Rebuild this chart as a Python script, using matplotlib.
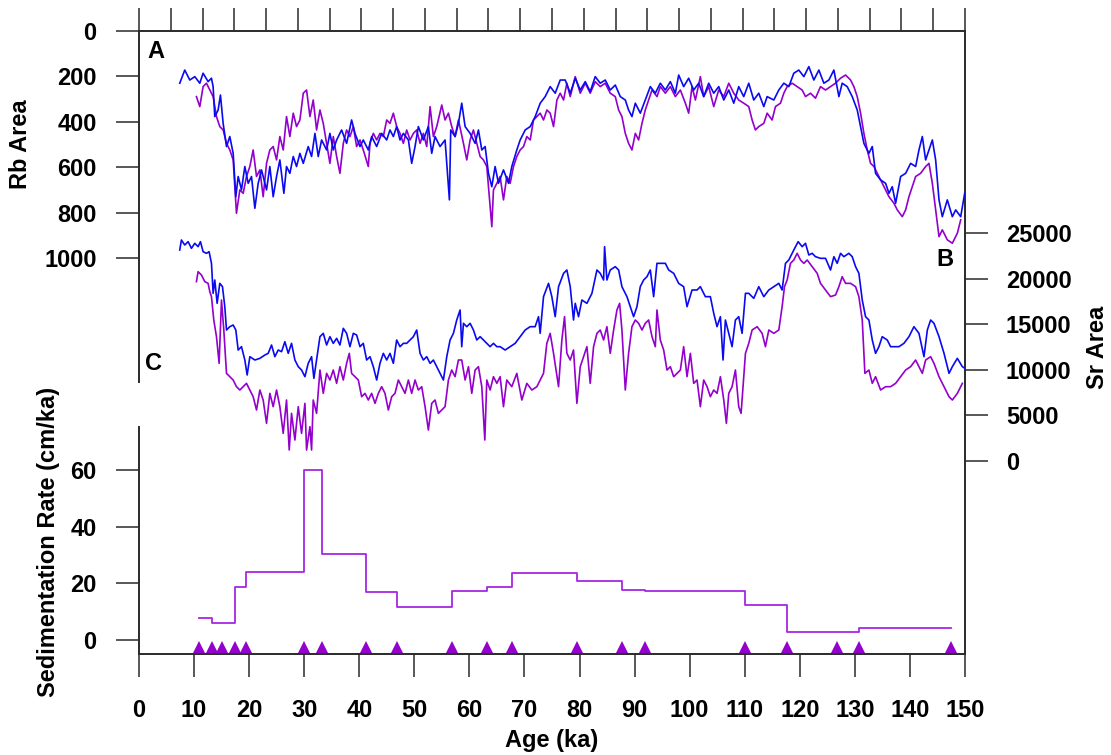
import matplotlib
matplotlib.use("Agg")
import matplotlib.pyplot as plt

plt.rcParams['font.family'] = ['Liberation Sans', 'DejaVu Sans']
plt.rcParams['font.weight'] = 'bold'

# ---------------- data ----------------
# Panel A : Rb area (blue and purple records)
rb_blue_age = [7.40, 8.31, 9.22, 10.13, 11.04, 11.64, 12.55, 13.16, 13.46, 13.76, 14.37, 14.79, 15.28, 15.89,
               16.49, 17.10, 17.58, 18.01, 18.61, 19.22, 19.83, 20.43, 21.04, 21.64, 22.25, 23.16, 23.76, 24.37,
               24.98, 25.58, 26.31, 26.79, 27.40, 28.01, 28.61, 29.22, 29.83, 30.73, 31.34, 31.95, 32.55, 33.16,
               34.07, 34.67, 35.28, 35.89, 36.79, 37.70, 38.61, 39.22, 40.13, 40.73, 41.64, 42.25, 43.16, 44.07,
               44.98, 45.58, 46.19, 46.79, 47.40, 48.01, 48.92, 49.52, 50.13, 50.73, 51.64, 52.55, 53.16, 53.76,
               54.67, 55.58, 56.37, 56.61, 57.40, 58.01, 58.61, 59.22, 60.13, 61.04, 61.64, 62.25, 62.86, 63.46,
               64.07, 64.67, 65.28, 66.19, 67.10, 67.70, 68.61, 69.22, 70.13, 71.04, 71.95, 72.86, 73.76, 74.67,
               75.58, 76.49, 77.40, 78.31, 79.22, 80.13, 81.04, 81.94, 82.85, 83.76, 84.67, 85.58, 86.49, 87.40,
               88.31, 88.91, 89.52, 90.13, 91.04, 91.94, 92.85, 93.76, 94.67, 95.58, 96.49, 97.40, 98.01, 98.91,
               99.82, 100.73, 101.64, 102.55, 103.46, 104.37, 105.28, 106.19, 107.10, 108.01, 108.91, 109.82,
               110.73, 111.64, 112.55, 113.46, 114.07, 115.28, 116.19, 117.10, 118.01, 118.91, 119.82, 120.73,
               121.64, 122.55, 123.46, 124.37, 125.28, 126.19, 127.10, 127.70, 128.61, 129.52, 130.43, 131.04,
               131.64, 132.55, 133.16, 133.76, 134.67, 135.58, 136.19, 136.79, 137.40, 138.31, 139.22, 140.13,
               141.04, 141.64, 142.25, 142.85, 143.46, 144.07, 144.67, 145.28, 145.88, 146.79, 147.70, 148.31,
               149.22, 149.94]
rb_blue = [230, 172, 216, 201, 230, 186, 223, 208, 245, 377, 348, 282, 407, 509,
           465, 539, 730, 641, 700, 597, 671, 641, 781, 671, 612, 700, 597, 730,
           641, 568, 715, 597, 627, 553, 597, 539, 583, 509, 553, 451, 553, 480,
           524, 451, 524, 480, 436, 495, 392, 451, 509, 480, 524, 465, 509, 451,
           480, 436, 465, 421, 480, 451, 480, 583, 509, 421, 480, 421, 539, 465,
           509, 480, 744, 436, 465, 407, 318, 421, 451, 495, 436, 524, 509, 627,
           686, 597, 671, 612, 671, 597, 524, 480, 436, 421, 377, 318, 289, 245,
           274, 216, 216, 274, 208, 260, 223, 267, 201, 230, 216, 260, 238, 289,
           304, 348, 377, 318, 362, 304, 245, 274, 230, 260, 223, 274, 194, 245,
           208, 260, 230, 289, 230, 274, 245, 304, 260, 318, 245, 289,
           230, 304, 274, 333, 289, 304, 260, 230, 245, 186, 172, 201,
           157, 216, 172, 230, 216, 172, 289, 230, 245, 289, 348, 421,
           495, 539, 509, 627, 656, 671, 715, 686, 759, 641, 627, 583,
           597, 524, 465, 568, 524, 480, 568, 744, 818, 744, 818, 788,
           818, 715]

rb_purple_age = [10.43, 11.04, 11.64, 12.25, 12.86, 13.46, 14.07, 14.67, 15.28, 15.89, 16.49, 17.10, 17.70,
                 18.31, 18.92, 19.52, 20.13, 20.73, 21.34, 21.95, 22.55, 23.16, 23.76, 24.37, 24.98, 25.58,
                 26.19, 26.79, 27.40, 28.01, 28.61, 29.22, 29.83, 30.43, 31.04, 31.64, 32.25, 32.86, 33.46,
                 34.07, 34.67, 35.28, 35.89, 36.49, 37.10, 37.70, 38.31, 38.92, 39.52, 40.13, 40.73, 41.64,
                 41.95, 42.55, 43.16, 43.76, 44.37, 44.98, 45.58, 46.19, 46.79, 47.40, 48.01, 48.61, 49.22,
                 49.83, 50.43, 51.04, 51.64, 52.25, 52.86, 53.46, 54.07, 54.98, 55.58, 56.19, 56.79, 57.40,
                 58.01, 58.92, 59.52, 60.13, 60.73, 61.34, 61.95, 62.55, 63.16, 63.76, 64.07, 64.37, 64.98,
                 65.58, 66.19, 66.79, 67.40, 68.01, 68.61, 69.22, 69.83, 70.43, 71.04, 71.64, 72.25, 72.86,
                 73.46, 74.07, 74.67, 75.28, 75.89, 76.49, 77.10, 77.70, 78.31, 79.22, 80.13, 81.04, 81.94,
                 82.85, 83.76, 84.67, 85.58, 86.49, 87.10, 87.70, 88.31, 88.91, 89.52, 90.13, 90.73, 91.34,
                 91.94, 92.55, 93.16, 94.07, 94.67, 95.58, 96.49, 97.40, 98.31, 99.22, 99.82, 100.43, 101.04,
                 101.94, 102.55, 103.46, 104.37, 105.28, 106.19, 107.10, 108.01, 108.91, 109.82, 110.73,
                 111.34, 111.94, 112.55, 113.46, 114.07, 114.97, 115.58, 116.49, 117.10, 117.70, 118.61,
                 119.52, 120.43, 121.04, 121.94, 122.85, 123.76, 124.67, 125.58, 126.49, 127.40, 128.31,
                 129.22, 129.82, 130.43, 131.04, 131.64, 132.25, 132.85, 133.46, 134.37, 135.28, 136.19,
                 137.10, 137.70, 138.61, 139.22, 139.82, 140.43, 141.04, 141.94, 142.85, 143.46, 144.07,
                 144.67, 145.28, 145.88, 146.79, 147.70, 148.61, 149.22]
rb_purple = [289, 333, 245, 230, 260, 289, 377, 421, 436, 495, 524, 568, 803,
             700, 715, 641, 597, 524, 641, 612, 730, 583, 524, 509, 568, 465,
             524, 377, 465, 362, 421, 392, 274, 260, 377, 304, 436, 348, 407,
             495, 583, 465, 553, 627, 495, 436, 465, 421, 509, 480, 524, 597,
             495, 451, 480, 451, 465, 392, 407, 362, 421, 451, 495, 436, 480,
             451, 436, 495, 451, 509, 333, 465, 421, 326, 392, 362, 421, 465,
             392, 495, 568, 480, 436, 495, 553, 568, 597, 774, 862, 700, 671,
             641, 744, 641, 671, 597, 553, 524, 509, 465, 480, 392, 377, 362,
             392, 348, 362, 421, 304, 274, 304, 230, 289, 201, 274, 230, 274,
             223, 245, 230, 274, 289, 348, 377, 451, 495, 524, 451, 480, 407,
             348, 304, 260, 289, 245, 274, 245, 289, 260, 318, 362, 245, 304,
             201, 289, 245, 333, 260, 289, 230, 274, 304, 318, 333,
             392, 436, 421, 407, 362, 392, 333, 318, 274, 245, 230,
             245, 260, 289, 274, 296, 245, 260, 245, 230, 208, 194,
             216, 245, 289, 362, 451, 524, 583, 597, 641, 686, 730,
             759, 788, 818, 788, 730, 686, 641, 627, 597, 583, 671,
             788, 906, 876, 920, 935, 891, 832]

# Panel B/C : Sr area (blue and purple records)
sr_blue_age = [7.40, 7.70, 8.31, 8.92, 9.52, 10.13, 10.73, 11.16, 11.64, 12.25, 12.73, 13.16, 13.46, 13.76,
               14.19, 14.67, 15.16, 15.58, 15.89, 16.49, 17.10, 17.58, 18.01, 18.61, 19.22, 19.64, 20.13,
               21.04, 21.95, 22.86, 23.46, 24.07, 24.67, 25.28, 25.89, 26.49, 27.10, 27.70, 28.31, 28.92,
               29.52, 30.13, 30.73, 31.34, 31.76, 32.25, 32.86, 33.46, 34.07, 34.67, 35.28, 35.89, 36.49,
               37.10, 37.70, 38.31, 38.92, 39.52, 40.13, 40.73, 41.34, 41.95, 42.55, 43.16, 43.76, 44.37,
               44.98, 45.58, 46.19, 46.79, 47.40, 48.01, 48.61, 49.22, 49.83, 50.43, 51.04, 51.64, 52.25,
               52.86, 53.46, 54.07, 54.67, 55.28, 55.89, 56.49, 57.10, 57.70, 58.31, 58.61, 58.92, 59.52,
               60.13, 60.73, 61.34, 61.95, 62.55, 63.16, 63.76, 64.37, 64.98, 65.58, 66.49, 67.40, 68.31,
               69.22, 70.13, 71.03, 71.94, 72.55, 72.85, 73.46, 74.37, 74.97, 75.58, 76.19, 77.10, 77.70,
               78.31, 78.91, 79.22, 79.82, 80.43, 81.34, 82.25, 83.16, 83.76, 84.37, 84.55, 84.97, 85.58,
               86.49, 87.10, 87.70, 88.61, 89.22, 89.82, 90.43, 91.03, 91.64, 92.25, 92.85, 93.46, 94.06,
               94.67, 95.58, 96.19, 97.10, 98.00, 98.91, 99.52, 100.43, 101.34, 101.94, 102.85, 103.76,
               104.37, 104.97, 105.58, 106.06, 106.49, 107.10, 107.70, 108.31, 108.91, 109.52, 110.13,
               110.73, 111.64, 112.55, 113.46, 114.37, 115.28, 116.19, 116.79, 117.40, 118.00, 118.91,
               119.70, 120.43, 121.03, 121.64, 122.25, 122.85, 123.76, 124.67, 125.58, 126.19, 126.79,
               127.40, 128.00, 128.91, 129.52, 130.13, 130.73, 131.34, 131.94, 132.55, 133.16, 133.76,
               134.37, 134.97, 135.88, 136.49, 137.10, 138.00, 138.91, 139.82, 140.73, 141.64, 142.55,
               143.16, 143.76, 144.37, 145.28, 146.19, 147.10, 147.70, 148.61, 149.52, 150.00]
sr_blue = [23164, 24263, 23713, 24080, 23347, 23897, 23530, 24080, 22980, 22797, 22980, 21698, 18399, 19865,
           17300, 19498, 19132, 16933, 14368, 14734, 14917, 14368, 12168, 12535, 11069, 9420, 11435,
           11069, 11252, 11619, 11802, 12718, 11435, 12168, 11985, 13085, 11802, 12902, 11069, 10336,
           9970, 9237, 10702, 11435, 9053, 11069, 13635, 14001, 12718, 13635, 12902, 13451, 12718,
           14551, 14001, 12535, 14001, 13818, 12535, 12902, 11069, 11435, 10336, 8870, 10702, 11802,
           11069, 11802, 10702, 13268, 12535, 12902, 12902, 13268, 13635, 14368, 11802, 11069, 11435,
           10702, 11069, 10336, 9603, 8870, 11435, 13268, 14001, 15467, 16567, 12535, 15101, 14734,
           15101, 14368, 13268, 13635, 13268, 12902, 12535, 12902, 12535, 12535, 12168, 12535, 12902,
           13635, 14368, 14734, 14734, 15834, 14001, 18033, 19498, 18033, 15834, 19132, 20598, 20965,
           19132, 15467, 17300, 15834, 17666, 17300, 18399, 20965, 20598, 19865, 23530, 19865, 20965,
           21331, 20965, 19132, 18033, 16933, 15834, 16933, 19132, 19865, 20232, 20965, 18033, 21698,
           21698, 21698, 20965, 20598, 19498, 19132, 16933, 18766, 18766, 19132, 18033, 18033,
           16200, 14734, 15834, 11069, 15467, 14001, 12535, 15467, 15834, 14001, 18399,
           18399, 17849, 19132, 18033, 18766, 19132, 19498, 18766, 21698, 22064, 23164,
           24080, 23530, 23897, 22614, 22797, 22430, 22247, 22247, 20965, 22430, 21698,
           22797, 22430, 22797, 22430, 21331, 20598, 17666, 15834, 15467, 13268, 11802,
           12535, 13635, 13268, 12535, 12535, 12535, 12902, 13635, 14734, 14001, 11435,
           14368, 15467, 15101, 13635, 11802, 9603, 10336, 11252, 10336, 10153]

sr_purple_age = [10.43, 10.73, 11.34, 11.95, 12.55, 12.86, 13.16, 13.58, 14.07, 14.55, 14.98, 15.40, 15.89,
                 16.49, 17.10, 17.70, 18.31, 18.92, 19.52, 20.13, 20.73, 21.34, 21.95, 22.55, 23.16, 23.76,
                 24.37, 24.98, 25.58, 26.19, 26.79, 27.28, 27.70, 28.31, 28.92, 29.52, 30.13, 30.43, 31.04,
                 31.34, 31.64, 32.25, 32.86, 33.46, 34.07, 34.67, 35.28, 35.89, 36.49, 37.10, 37.70, 38.19,
                 38.61, 39.22, 39.83, 40.43, 41.04, 41.64, 42.25, 42.86, 43.46, 44.07, 44.67, 45.28, 45.89,
                 46.49, 47.10, 47.70, 48.31, 48.92, 49.52, 50.13, 50.73, 51.34, 51.95, 52.55, 53.16, 53.76,
                 54.37, 54.98, 55.58, 56.19, 56.79, 57.40, 58.01, 58.61, 59.22, 59.83, 60.43, 61.04, 61.64,
                 62.25, 62.80, 63.16, 63.76, 64.37, 64.98, 65.58, 66.19, 66.79, 67.70, 68.61, 69.52, 70.43,
                 71.34, 72.25, 72.85, 73.46, 74.06, 74.67, 75.28, 76.19, 76.79, 77.28, 77.70, 78.31, 78.91,
                 79.52, 80.13, 80.73, 81.34, 81.94, 82.55, 83.16, 83.76, 84.37, 84.97, 85.58, 86.19, 86.79,
                 87.28, 87.70, 88.31, 88.91, 89.52, 90.13, 90.73, 91.34, 91.94, 92.55, 93.16, 93.76, 94.06,
                 94.67, 95.28, 95.88, 96.49, 97.10, 97.70, 98.31, 98.91, 99.52, 100.13, 100.73, 101.34,
                 101.94, 102.55, 103.16, 103.76, 104.37, 104.97, 105.58, 106.19, 106.67, 107.10, 107.70,
                 108.31, 108.91, 109.34, 109.82, 110.13, 110.73, 111.34, 112.25, 113.16, 113.76, 114.37,
                 115.28, 116.19, 116.79, 117.22, 117.70, 118.31, 118.91, 119.52, 120.13, 120.73, 121.34,
                 122.25, 123.16, 123.76, 124.67, 125.58, 126.49, 127.10, 127.70, 128.31, 129.22, 130.13,
                 130.73, 131.34, 131.82, 132.55, 133.16, 133.76, 134.67, 135.58, 136.49, 137.40, 138.31,
                 139.22, 140.13, 141.03, 141.64, 142.25, 142.85, 143.76, 144.37, 145.28, 146.19, 147.10,
                 147.70, 148.61, 149.52]
sr_purple = [19682, 20781, 20415, 19682, 19498, 18582, 18033, 15467, 13635, 10702, 17666, 14368, 9603,
             9237, 8870, 8137, 7771, 8137, 8504, 7771, 7038, 5572, 7771, 6671, 4105, 7404,
             5938, 7771, 5938, 3006, 6671, 1174, 5205, 2273, 5938, 3006, 6305, 1174, 3739,
             1174, 6671, 5205, 9970, 7404, 9603, 8870, 9970, 8504, 10336, 8870, 10702, 11802,
             9603, 9237, 8870, 7038, 7404, 6671, 7404, 6305, 7404, 8137, 7404, 5572, 7038,
             7404, 8870, 8137, 7404, 8870, 7404, 8870, 7771, 8137, 5938, 3373, 6305, 6671,
             5205, 5572, 5938, 8870, 9970, 9237, 11069, 11069, 8870, 10336, 7404, 9970, 10336,
             8137, 2273, 8870, 7771, 9237, 8504, 9237, 5938, 8870, 8137, 9603, 6671, 8504,
             7771, 8137, 8870, 9603, 12902, 14001, 11802, 8137, 13268, 15834, 11802, 11069, 12168,
             6305, 10336, 11435, 12535, 8504, 12535, 14001, 14368, 13268, 14734, 11802, 14368, 16567,
             17300, 14368, 7771, 11802, 14734, 15467, 15101, 14368, 15101, 15467, 13635, 12535, 16567,
             13268, 12168, 9970, 10336, 9237, 9603, 9970, 12535, 9237, 11802, 8504, 8870,
             5938, 8870, 8137, 7038, 7771, 7404, 9237, 6671, 4105, 7404, 8137,
             9970, 5938, 5205, 9237, 11802, 12902, 14368, 14734, 14001, 12535, 14368,
             14001, 14368, 16933, 19132, 19865, 21698, 22064, 22797, 22064, 21698, 22064,
             21331, 20598, 19498, 18766, 18033, 18216, 19132, 20232, 19498, 19498, 19132,
             18033, 15467, 9603, 9970, 8504, 9237, 7771, 8137, 8137, 8504, 9237,
             9970, 10336, 11069, 10336, 9603, 11069, 11435, 10702, 9237, 8137, 7038,
             6671, 7404, 8504]

# Panel C : sedimentation rate (step boundaries = dated tie points)
tie_age = [10.9, 13.3, 15.0, 17.4, 19.4, 29.9, 33.2, 41.3, 46.8, 56.8, 63.2, 67.8, 79.5,
           87.7, 91.8, 110.0, 117.6, 126.8, 130.7, 147.5]
sed_rate = [7.9, 6.1, 6.1, 18.8, 24.0, 60.0, 30.4, 16.9, 11.8, 17.4, 18.6, 23.5, 20.9,
            17.6, 17.3, 12.5, 2.8, 2.7, 4.1]

age_ticks = [0, 10, 20, 30, 40, 50, 60, 70, 80, 90, 100, 110, 120, 130, 140, 150]
rb_ticks = [0, 200, 400, 600, 800, 1000]
sr_ticks = [0, 5000, 10000, 15000, 20000, 25000]
sed_ticks = [0, 20, 40, 60]

# ---------------- layout ----------------
W, H = 1111, 755
BLUE = '#0A0AF0'
PURP = '#9400CC'
PURP_L = '#A626E0'
SPC = '#2a2a2a'
TFS = 17

fig = plt.figure(figsize=(W / 100, H / 100), dpi=100)
L, R, T, B = 139, 965, 31, 654
rect = [L / W, 1 - B / H, (R - L) / W, (B - T) / H]

# base axes: sedimentation rate + age axis
axC = fig.add_axes(rect)
axC.set_xlim(0, 150)
axC.set_ylim(-4.94, 214.9)
for s in ['top', 'right', 'bottom', 'left']:
    axC.spines[s].set_color(SPC)
    axC.spines[s].set_linewidth(1.4)
axC.spines['left'].set_bounds(-4.94, 75.2)
axC.set_yticks(sed_ticks)
axC.set_xticks(age_ticks)
axC.tick_params(axis='both', direction='out', length=16.5, width=1.1, color=SPC,
                labelsize=TFS)
axC.tick_params(axis='x', pad=16)
axC.tick_params(axis='y', pad=14)
for lab in axC.get_xticklabels() + axC.get_yticklabels():
    lab.set_fontweight('bold')

# top ticks (unlabelled, 26 equal intervals)
axT = axC.twiny()
axT.set_xlim(0, 26)
axT.set_xticks(range(27))
axT.set_xticklabels([])
axT.tick_params(axis='x', direction='out', length=16.5, width=1.1, color=SPC)
for s in axT.spines.values():
    s.set_visible(False)

# Rb axis (inverted, left)
axA = fig.add_axes(rect, sharex=axC)
axA.patch.set_visible(False)
axA.set_ylim(2744.5, 0)
for s in ['top', 'right', 'bottom']:
    axA.spines[s].set_visible(False)
axA.spines['left'].set_color(SPC)
axA.spines['left'].set_linewidth(1.4)
axA.spines['left'].set_bounds(0, 1546)
axA.set_yticks(rb_ticks)
axA.tick_params(axis='y', direction='out', length=16.5, width=1.1, color=SPC,
                labelsize=TFS, pad=14)
axA.tick_params(axis='x', bottom=False, labelbottom=False)
for lab in axA.get_yticklabels():
    lab.set_fontweight('bold')

# Sr axis (right)
axB = fig.add_axes(rect, sharex=axC)
axB.patch.set_visible(False)
axB.set_ylim(-21251, 47240)
for s in axB.spines.values():
    s.set_visible(False)
axB.yaxis.set_ticks_position('right')
axB.yaxis.set_label_position('right')
axB.set_yticks(sr_ticks)
axB.tick_params(axis='y', direction='out', length=16.5, width=1.1, color=SPC,
                labelsize=TFS, pad=13)
axB.tick_params(axis='x', bottom=False, labelbottom=False)
for lab in axB.get_yticklabels():
    lab.set_fontweight('bold')

# ---------------- data drawing ----------------
axA.plot(rb_purple_age, rb_purple, color=PURP, lw=1.2)
axA.plot(rb_blue_age, rb_blue, color=BLUE, lw=1.2)
axB.plot(sr_purple_age, sr_purple, color=PURP, lw=1.2)
axB.plot(sr_blue_age, sr_blue, color=BLUE, lw=1.2)
axC.step(tie_age, sed_rate + [sed_rate[-1]], where='post', color=PURP_L, lw=1.3)
axC.plot(tie_age, [-2.4] * len(tie_age), linestyle='none', marker='^', ms=9,
         color=PURP, markeredgewidth=0)

# ---------------- labels ----------------
fig.text(21 / W, 1 - 144 / H, 'Rb Area', rotation=90, ha='center', va='center',
         fontsize=17, fontweight='bold')
fig.text(49 / W, 1 - 542 / H, 'Sedimentation Rate (cm/ka)', rotation=90, ha='center',
         va='center', fontsize=17, fontweight='bold')
fig.text(1097 / W, 1 - 347 / H, 'Sr Area', rotation=90, ha='center', va='center',
         fontsize=17, fontweight='bold')
fig.text(552 / W, 1 - 746.5 / H, 'Age (ka)', ha='center', va='baseline',
         fontsize=17, fontweight='bold')
fig.text(155.5 / W, 1 - 51.5 / H, 'A', ha='center', va='center', fontsize=17, fontweight='bold')
fig.text(945 / W, 1 - 260 / H, 'B', ha='center', va='center', fontsize=17, fontweight='bold')
fig.text(154 / W, 1 - 363.5 / H, 'C', ha='center', va='center', fontsize=17, fontweight='bold')

fig.savefig('out.png', dpi=100)
